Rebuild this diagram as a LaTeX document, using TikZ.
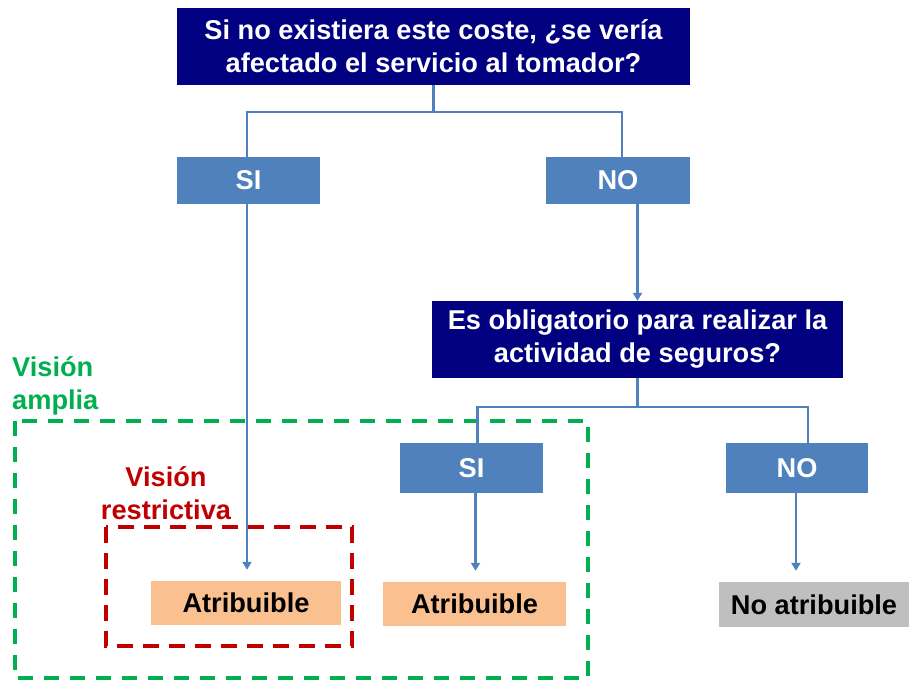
\documentclass[tikz,border=0pt]{standalone}
\usepackage{fontspec}
\setmainfont{Liberation Sans}
\usetikzlibrary{arrows.meta,calc}
\definecolor{qnavy}{HTML}{000080}
\definecolor{ansblue}{HTML}{4F81BD}
\definecolor{attrorange}{HTML}{FAC090}
\definecolor{noattgray}{HTML}{BFBFBF}
\definecolor{vgreen}{HTML}{00B050}
\definecolor{vred}{HTML}{C00000}
\tikzset{
  txt/.style={font=\bfseries\fontsize{27.2}{33}\selectfont},
  question/.style={txt, fill=qnavy, text=white, align=center, inner sep=0pt},
  answer/.style={txt, fill=ansblue, text=white, inner sep=0pt},
  result/.style={txt, text=black, inner sep=0pt},
  conn/.style={draw=ansblue, line width=2.2pt},
  arr/.style={conn, -{Triangle[width=9pt,length=8pt]}},
  greenbox/.style={draw=vgreen, line width=4pt, dash pattern=on 15pt off 11pt},
  redbox/.style={draw=vred, line width=4pt, dash pattern=on 16pt off 10pt},
}
\begin{document}
\begin{tikzpicture}[x=1pt,y=-1pt]
\useasboundingbox (0,0) rectangle (909,682);
% dashed frames
\draw[greenbox] (15,421) rectangle (588,678);
\draw[redbox] (106,527) rectangle (352,646);
\node[txt, text=vgreen, align=left, anchor=west, inner sep=0pt] (amplia) at (12,386) {Visión\\amplia};
\node[txt, text=vred, align=center, inner sep=0pt] (restr) at (166,493) {Visión\\restrictiva};
% nodes
\node[question, minimum width=513pt, minimum height=77pt] (q1) at (433.5,46.5) {Si no existiera este coste, ¿se vería\\afectado el servicio al tomador?};
\node[answer, minimum width=143pt, minimum height=47pt] (si1) at (248.5,180.5) {SI};
\node[answer, minimum width=144pt, minimum height=47pt] (no1) at (618,180.5) {NO};
\node[question, minimum width=411pt, minimum height=77pt] (q2) at (637.5,339.5) {Es obligatorio para realizar la\\actividad de seguros?};
\node[answer, minimum width=143pt, minimum height=50pt] (si2) at (471.5,468) {SI};
\node[answer, minimum width=142pt, minimum height=50pt] (no2) at (797,468) {NO};
\node[result, fill=attrorange, minimum width=190pt, minimum height=44pt] (a1) at (246,603) {Atribuible};
\node[result, fill=attrorange, minimum width=183pt, minimum height=44pt] (a2) at (474.5,604) {Atribuible};
\node[result, fill=noattgray, minimum width=190pt, minimum height=45pt] (na) at (814,604.5) {No atribuible};
% connectors level 1
\coordinate (j1) at ($(q1.south)+(0,27)$);
\draw[conn] (q1.south) -- (j1);
\draw[conn] ([xshift=-1.5pt]si1.north) |- (j1) -| ([xshift=4pt]no1.north);
\draw[arr, shorten >=11pt] ([xshift=-1.5pt]si1.south) -- ([xshift=-1.5pt]si1.south |- a1.north);
\draw[arr] (no1.south -| q2.north) -- (q2.north);
% connectors level 2
\coordinate (j2) at ($(q2.south)+(0,29)$);
\draw[conn] (q2.south) -- (j2);
\draw[conn] ([xshift=6pt]si2.north) |- (j2) -| ([xshift=11pt]no2.north);
\draw[arr, shorten >=11pt] ([xshift=4pt]si2.south) -- ([xshift=4pt]si2.south |- a2.north);
\draw[arr, shorten >=11pt] ([xshift=-1pt]no2.south) -- ([xshift=-1pt]no2.south |- na.north);
\end{tikzpicture}
\end{document}
